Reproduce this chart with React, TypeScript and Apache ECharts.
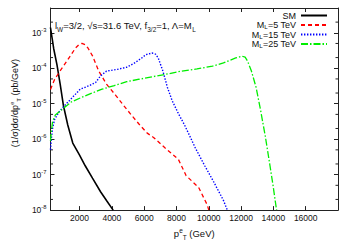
import React, { useEffect, useRef } from 'react';
import * as echarts from 'echarts';

// ---------- data ----------
const xSM = [200, 300, 400, 600, 800, 1000, 1270, 1580, 2000, 2350, 2800, 3310, 3700, 4080];
const ySM = [1.41e-3, 7.08e-4, 3.55e-4, 1.26e-4, 3.55e-5, 8.91e-6, 2.51e-6, 7.76e-7, 3.55e-7, 1.78e-7, 7.94e-8, 3.24e-8, 1.78e-8, 1.0e-8];

const xM5 = [200, 460, 790, 1270, 1750, 1950, 2150, 2350, 2520, 2810, 3190, 3670, 4250, 4730, 5210, 5690, 6190, 6580, 7300, 8120, 8600, 9370, 9910, 10000];
const yM5 = [2.51e-5, 4.9e-5, 8.3e-5, 1.74e-4, 3.72e-4, 4.6e-4, 5.01e-4, 4.6e-4, 3.72e-4, 2.19e-4, 8.3e-5, 3.55e-5, 1.7e-5, 8.91e-6, 4.79e-6, 2.63e-6, 1.48e-6, 1.12e-6, 5.62e-7, 2.69e-7, 9.33e-8, 4.37e-8, 1.38e-8, 1.0e-8];

const xM15 = [200, 250, 330, 450, 700, 980, 1560, 2040, 2610, 3000, 3290, 3670, 4350, 4920, 5410, 5850, 6100, 6480, 6700, 6870, 7160, 7440, 7730, 8120, 8500, 8790, 9170, 9750, 10300, 10900, 11150];
const yM15 = [5.01e-7, 1.0e-6, 2.0e-6, 3.55e-6, 5.62e-6, 7.94e-6, 1.51e-5, 2.57e-5, 3.24e-5, 3.98e-5, 6.03e-5, 8.32e-5, 9.33e-5, 1.07e-4, 1.41e-4, 1.95e-4, 2.4e-4, 2.69e-4, 2.5e-4, 1.95e-4, 8.32e-5, 2.88e-5, 1.23e-5, 5.25e-6, 2.51e-6, 1.32e-6, 5.62e-7, 1.78e-7, 6.31e-8, 1.91e-8, 1.0e-8];

const xM25 = [200, 250, 330, 500, 980, 1460, 2040, 2610, 3390, 4150, 4920, 5690, 6390, 7350, 8310, 9270, 10230, 10910, 11670, 12060, 12250, 12400, 12640, 12930, 13210, 13500, 13790, 13980, 14180, 14200];
const yM25 = [8.91e-7, 1.58e-6, 3.16e-6, 4.79e-6, 7.24e-6, 1.1e-5, 1.45e-5, 1.86e-5, 2.57e-5, 3.24e-5, 4.17e-5, 4.9e-5, 5.62e-5, 6.76e-5, 8.32e-5, 9.55e-5, 1.15e-4, 1.41e-4, 1.95e-4, 2.19e-4, 2.05e-4, 1.6e-4, 8.32e-5, 2.88e-5, 6.46e-6, 1.2e-6, 1.78e-7, 4.9e-8, 1.12e-8, 1.0e-8];

const seriesNames = ['SM', 'M_L=5 TeV', 'M_L=15 TeV', 'M_L=25 TeV'];
const xTickLabels = [2000, 4000, 6000, 8000, 10000, 12000, 14000, 16000];
const yMinorTicks = [2e-8, 5e-8, 2e-7, 5e-7, 2e-6, 5e-6, 2e-5, 5e-5, 2e-4, 5e-4, 2e-3];
const X_MIN = 200;
const X_MAX = 18000;
const Y_MIN = 1e-8;
const Y_MAX = 5e-3;

const annotation = 'l{sub|W}=3/2, √s=31.6 TeV, f{sub|3/2}=1, Λ=M{sub|L}';
const yName = '(1/σ)dσ/dp{sup|e}{sub|T} (pb/GeV)';
const xName = 'p{sup|e}{sub|T} (GeV)';

// ---------- styling ----------
const F = 'Liberation Sans, Arial, Helvetica, sans-serif';
const TXT = '#111';
const AX = '#222';

const rich = (fs: number, lh = 0.8) => ({
  sup: { fontSize: fs * 0.68, lineHeight: fs * lh, verticalAlign: 'top', fontFamily: F, color: TXT },
  sub: { fontSize: fs * 0.68, lineHeight: fs * lh, verticalAlign: 'bottom', fontFamily: F, color: TXT },
});

const zip = (xs: number[], ys: number[]) => xs.map((x, i) => [x, ys[i]]);

export default function App() {
  const ref = useRef<HTMLDivElement>(null);

  useEffect(() => {
    document.body.style.margin = '0';
    if (!ref.current) return;
    const chart = echarts.init(ref.current, null, { renderer: 'svg' });

    const lineSeries = [
      { name: seriesNames[0], xs: xSM, ys: ySM, color: '#000000', width: 1.6, type: 'solid' as any },
      { name: seriesNames[1], xs: xM5, ys: yM5, color: '#ff0000', width: 1.3, type: [4, 3] },
      { name: seriesNames[2], xs: xM15, ys: yM15, color: '#0000ff', width: 1.4, type: [1.4, 1.6] },
      { name: seriesNames[3], xs: xM25, ys: yM25, color: '#00ee00', width: 1.3, type: [7, 2, 1.5, 2] },
    ];

    const legendTops = [11, 20.5, 30, 39.5];

    const xAxisBase = {
      type: 'value',
      min: X_MIN,
      max: X_MAX,
      splitNumber: 9,
      axisLine: { show: true, lineStyle: { color: AX, width: 1 } },
      axisTick: { show: true, inside: true, length: 4, lineStyle: { color: AX } },
      splitLine: { show: false },
    };
    const yAxisBase = {
      type: 'log',
      logBase: 10,
      min: Y_MIN,
      max: Y_MAX,
      axisLine: { show: true, lineStyle: { color: AX, width: 1 } },
      axisTick: { show: true, inside: true, length: 4, lineStyle: { color: AX } },
      splitLine: { show: false },
    };

    const option: any = {
      animation: false,
      grid: { left: 29, right: 12, top: 8, bottom: 29, show: false },
      xAxis: [
        {
          ...xAxisBase,
          position: 'bottom',
          axisLabel: {
            show: true,
            margin: 3,
            fontSize: 8.5,
            fontFamily: F,
            color: TXT,
            formatter: (v: number) => (xTickLabels.includes(v) ? String(v) : ''),
          },
          name: xName,
          nameLocation: 'middle',
          nameGap: 12,
          nameTextStyle: { fontSize: 9.5, fontFamily: F, color: TXT, lineHeight: 13, rich: rich(9.5) },
        },
        { ...xAxisBase, position: 'top', axisLabel: { show: false } },
      ],
      yAxis: [
        {
          ...yAxisBase,
          position: 'left',
          axisLabel: {
            show: true,
            margin: 4,
            fontSize: 8.5,
            fontFamily: F,
            color: TXT,
            lineHeight: 12,
            rich: rich(8.5),
            formatter: (v: number) => {
              const e = Math.log10(v);
              const r = Math.round(e);
              return Math.abs(e - r) < 1e-6 ? `10{sup|${r}}` : '';
            },
          },
          name: yName,
          nameLocation: 'middle',
          nameGap: 16,
          nameTextStyle: { fontSize: 9, fontFamily: F, color: TXT, lineHeight: 13, rich: rich(9), padding: [0, 0, 0, 12] },
        },
        { ...yAxisBase, position: 'right', axisLabel: { show: false } },
      ],
      legend: seriesNames.map((n, i) => ({
        data: [n],
        orient: 'vertical',
        right: 22,
        top: legendTops[i],
        align: 'right',
        itemWidth: 26,
        itemHeight: 7,
        itemGap: 0,
        padding: 0,
        selectedMode: false,
        itemStyle: { opacity: 0 },
        formatter: (name: string) => name.replace('M_L', 'M{sub|L}'),
        textStyle: { fontSize: 9, fontFamily: F, color: TXT, lineHeight: 9, rich: rich(9, 0.55) },
      })),
      graphic: [
        {
          type: 'text',
          left: 55,
          top: 19,
          style: {
            text: annotation,
            fontSize: 9.5,
            fontFamily: F,
            fill: TXT,
            lineHeight: 13,
            rich: rich(9.5),
          },
        },
      ],
      series: [
        ...lineSeries.map((s) => ({
          name: s.name,
          type: 'line',
          xAxisIndex: 0,
          yAxisIndex: 0,
          data: zip(s.xs, s.ys),
          showSymbol: false,
          symbol: 'none',
          smooth: false,
          clip: true,
          lineStyle: { color: s.color, width: s.width, type: s.type },
          itemStyle: { color: s.color },
        })),
        {
          type: 'custom',
          name: 'minorTicks',
          xAxisIndex: 0,
          yAxisIndex: 0,
          silent: true,
          data: yMinorTicks.map((v) => [X_MIN, v]),
          renderItem: (params: any, api: any) => {
            const p = api.coord([api.value(0), api.value(1)]);
            const cs = params.coordSys;
            const style = { stroke: AX, lineWidth: 1 };
            return {
              type: 'group',
              children: [
                { type: 'line', shape: { x1: cs.x, y1: p[1], x2: cs.x + 2.5, y2: p[1] }, style },
                { type: 'line', shape: { x1: cs.x + cs.width, y1: p[1], x2: cs.x + cs.width - 2.5, y2: p[1] }, style },
              ],
            };
          },
        },
      ],
    };

    chart.setOption(option);
    return () => chart.dispose();
  }, []);

  return <div ref={ref} style={{ width: 350, height: 245 }} />;
}
